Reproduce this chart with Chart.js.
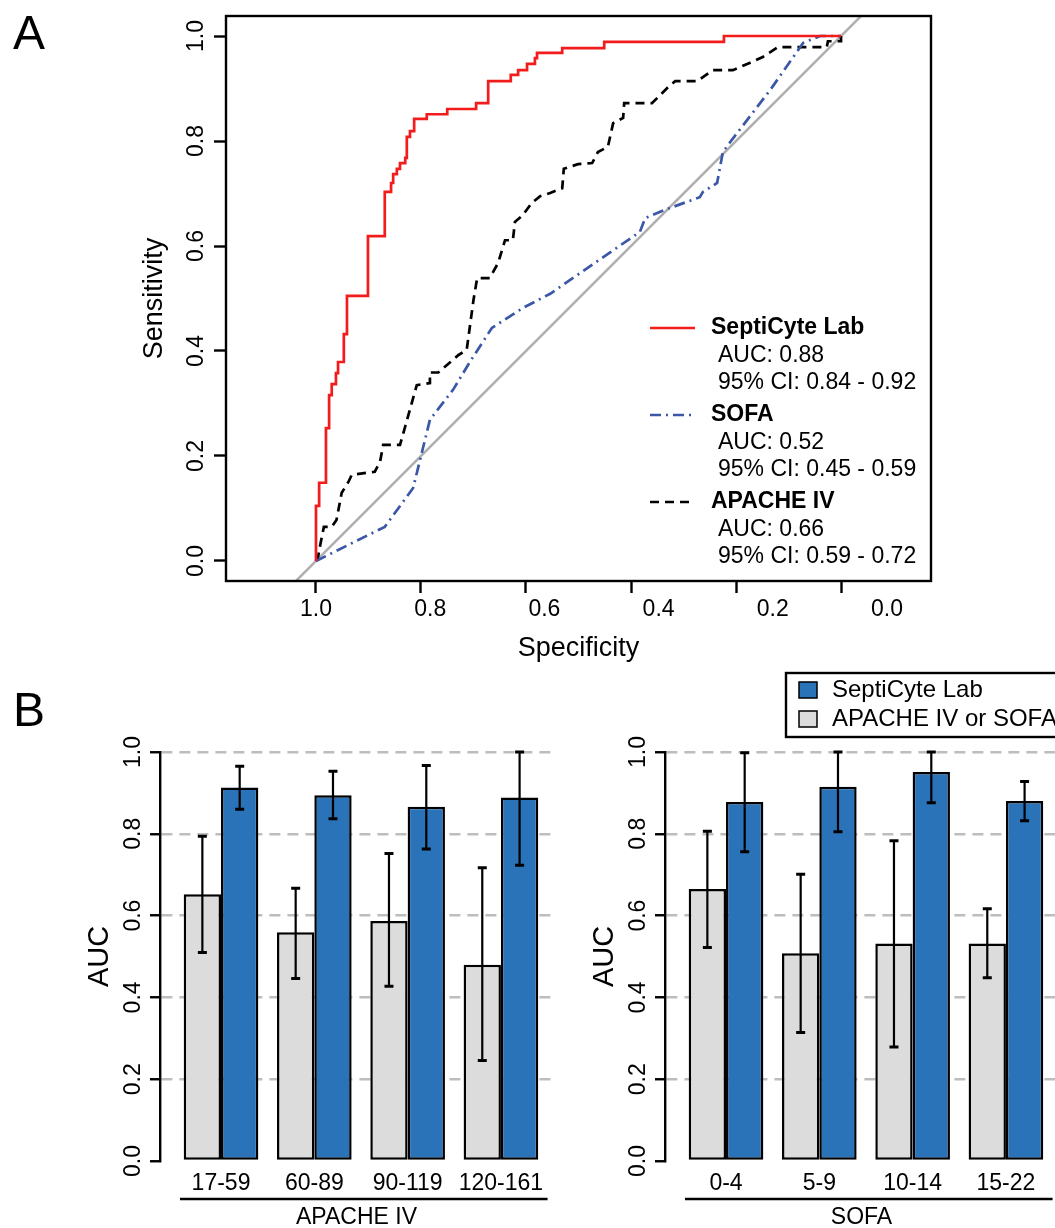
<!DOCTYPE html>
<html lang="en">
<head>
<meta charset="UTF-8">
<title>SeptiCyte Lab ROC and AUC by severity</title>
<script src="https://cdn.jsdelivr.net/npm/chart.js@4"></script>
<style>
  html, body { margin: 0; padding: 0; background: #fff; overflow: hidden; }
  body { width: 1055px; height: 1228px; position: relative; font-family: "Liberation Sans", Arial, sans-serif; }
  canvas { position: absolute; }
  #rocChart { left: 0; top: 0; }
  #apacheChart { left: 0; top: 660px; }
  #sofaChart { left: 505px; top: 660px; }
  .panel { position: absolute; font-size: 48px; line-height: 1; z-index: 5; }
</style>
</head>
<body>
<div class="panel" style="left:13px; top:9px;">A</div>
<div class="panel" style="left:13px; top:686px;">B</div>
<canvas id="rocChart" width="1055" height="670"></canvas>
<canvas id="apacheChart" width="560" height="568"></canvas>
<canvas id="sofaChart" width="560" height="568"></canvas>

<script>
const FONT = '"Liberation Sans", Arial, Helvetica, sans-serif';

// ---- panel A: ROC curves (specificity, sensitivity) ----
const rocTicks = [0, 0.2, 0.4, 0.6, 0.8, 1.0];

// SeptiCyte Lab, drawn as steps: up at the previous specificity, then across
const septiSpec = [1.000, 0.994, 0.981, 0.975, 0.970, 0.962, 0.958, 0.947, 0.941, 0.901, 0.869, 0.857,
                   0.853, 0.846, 0.840, 0.830, 0.827, 0.821, 0.813, 0.789, 0.750, 0.695, 0.672, 0.629,
                   0.615, 0.598, 0.583, 0.579, 0.531, 0.451, 0.223, 0.000];
const septiSens = [0.000, 0.105, 0.149, 0.253, 0.316, 0.337, 0.358, 0.379, 0.432, 0.505, 0.619, 0.703,
                   0.720, 0.737, 0.747, 0.758, 0.768, 0.808, 0.819, 0.842, 0.851, 0.861, 0.872, 0.914,
                   0.926, 0.935, 0.947, 0.958, 0.968, 0.977, 0.989, 1.000];

const sofaSpec = [1.000, 0.869, 0.815, 0.798, 0.783, 0.739, 0.707, 0.665, 0.606, 0.554, 0.383, 0.373,
                  0.335, 0.269, 0.263, 0.236, 0.225, 0.211, 0.135, 0.072, 0.040, 0.000];
const sofaSens = [0.000, 0.065, 0.139, 0.208, 0.269, 0.326, 0.379, 0.444, 0.482, 0.509, 0.627, 0.653,
                  0.669, 0.693, 0.703, 0.720, 0.779, 0.798, 0.897, 0.987, 1.000, 1.000];

const apacheSpec = [1.000, 0.996, 0.992, 0.985, 0.970, 0.961, 0.951, 0.938, 0.932, 0.888, 0.878, 0.872,
                    0.840, 0.808, 0.783, 0.783, 0.767, 0.729, 0.713, 0.700, 0.693, 0.669, 0.653, 0.640,
                    0.625, 0.621, 0.606, 0.589, 0.573, 0.554, 0.531, 0.528, 0.501, 0.474, 0.463, 0.444,
                    0.434, 0.415, 0.413, 0.360, 0.331, 0.316, 0.274, 0.244, 0.206, 0.173, 0.149, 0.120,
                    0.027, 0.025, 0.000, 0.000];
const apacheSens = [0.000, 0.008, 0.030, 0.065, 0.065, 0.078, 0.130, 0.151, 0.164, 0.170, 0.189, 0.221,
                    0.221, 0.335, 0.339, 0.359, 0.359, 0.392, 0.402, 0.497, 0.539, 0.539, 0.568, 0.611,
                    0.611, 0.646, 0.659, 0.682, 0.695, 0.701, 0.710, 0.747, 0.756, 0.758, 0.779, 0.789,
                    0.834, 0.844, 0.872, 0.872, 0.901, 0.914, 0.914, 0.935, 0.935, 0.949, 0.960, 0.979,
                    0.979, 0.990, 0.990, 1.000];

// chance line, corner to corner of the plot region
const diagSpec = [1.0381, -0.0381];
const diagSens = [-0.0381, 1.0381];

const rocNames = ['SeptiCyte Lab', 'SOFA', 'APACHE IV'];
const rocAuc = ['0.88', '0.52', '0.66'];
const rocCi = ['0.84 - 0.92', '0.45 - 0.59', '0.59 - 0.72'];

// ---- panel B: AUC by severity group ----
const barSeries = ['SeptiCyte Lab', 'APACHE IV or SOFA'];
const aucTicks = [0, 0.2, 0.4, 0.6, 0.8, 1.0];

const apacheGroups = ['17-59', '60-89', '90-119', '120-161'];
const apacheScoreAuc = [0.652, 0.559, 0.587, 0.480];
const apacheScoreLo = [0.510, 0.446, 0.427, 0.246];
const apacheScoreHi = [0.794, 0.667, 0.752, 0.717];
const apacheSeptiAuc = [0.913, 0.894, 0.866, 0.889];
const apacheSeptiLo = [0.860, 0.837, 0.763, 0.723];
const apacheSeptiHi = [0.965, 0.953, 0.967, 1.000];

const sofaGroups = ['0-4', '5-9', '10-14', '15-22'];
const sofaScoreAuc = [0.665, 0.508, 0.532, 0.532];
const sofaScoreLo = [0.522, 0.314, 0.279, 0.448];
const sofaScoreHi = [0.806, 0.701, 0.783, 0.617];
const sofaSeptiAuc = [0.878, 0.915, 0.951, 0.880];
const sofaSeptiLo = [0.756, 0.805, 0.876, 0.832];
const sofaSeptiHi = [0.998, 1.000, 1.000, 0.928];

Chart.defaults.font.family = FONT;
Chart.defaults.color = '#000';

function toPoints(xs, ys) {
    return xs.map((x, i) => ({x: x, y: ys[i]}));
}
function fixedTicks(values) {
    return scale => { scale.ticks = values.map(v => ({value: v})); };
}

// box round the ROC plot + the three-line legend entries
const rocFramePlugin = {
    id: 'rocFrame',
    afterDraw(chart) {
        const {ctx, chartArea} = chart;
        ctx.save();
        ctx.strokeStyle = '#000';
        ctx.lineWidth = 2.4;
        ctx.strokeRect(chartArea.left, chartArea.top, chartArea.right - chartArea.left, chartArea.bottom - chartArea.top);

        const x0 = chartArea.left + 424;
        const y0 = chartArea.top + 312;
        for (let i = 0; i < 3; i++) {
            const ds = chart.data.datasets[i];
            const y = y0 + i * 87;
            ctx.strokeStyle = ds.borderColor;
            ctx.lineWidth = ds.borderWidth;
            ctx.setLineDash(ds.borderDash || []);
            ctx.beginPath();
            ctx.moveTo(x0, y);
            ctx.lineTo(x0 + 45, y);
            ctx.stroke();
            ctx.setLineDash([]);
            ctx.fillStyle = '#000';
            ctx.textAlign = 'left';
            ctx.textBaseline = 'middle';
            ctx.font = 'bold 23px ' + FONT;
            ctx.fillText(rocNames[i], x0 + 61, y);
            ctx.font = '23px ' + FONT;
            ctx.fillText('AUC: ' + rocAuc[i], x0 + 68, y + 28);
            ctx.fillText('95% CI: ' + rocCi[i], x0 + 68, y + 55);
        }
        ctx.restore();
    }
};

new Chart(document.getElementById('rocChart'), {
    type: 'scatter',
    data: {
        datasets: [
            {label: rocNames[0], data: toPoints(septiSpec, septiSens), showLine: true, stepped: 'after',
             borderColor: '#f21c1c', borderWidth: 2.7, pointRadius: 0, fill: false},
            {label: rocNames[1], data: toPoints(sofaSpec, sofaSens), showLine: true,
             borderColor: '#3a57a8', borderWidth: 2.7, borderDash: [11, 5, 2, 5], pointRadius: 0, fill: false},
            {label: rocNames[2], data: toPoints(apacheSpec, apacheSens), showLine: true,
             borderColor: '#000', borderWidth: 2.7, borderDash: [9, 6], pointRadius: 0, fill: false},
            {label: 'chance', data: toPoints(diagSpec, diagSens), showLine: true,
             borderColor: '#b0b0b0', borderWidth: 2.5, pointRadius: 0, fill: false}
        ]
    },
    options: {
        responsive: false,
        animation: false,
        events: [],
        layout: {padding: {left: 0, top: 16, right: 124, bottom: 0}},
        plugins: {legend: {display: false}, tooltip: {enabled: false}},
        scales: {
            x: {
                type: 'linear', reverse: true, min: -0.1714, max: 1.1714, weight: 0,
                afterBuildTicks: fixedTicks(rocTicks),
                afterFit: s => { s.height = 12; },
                ticks: {display: false},
                grid: {drawOnChartArea: false, tickLength: 12, tickColor: '#000', tickWidth: 2.4},
                border: {display: false}
            },
            // tick labels sit on a slightly wider spacing than the tick marks in the original
            xl: {
                type: 'linear', position: 'bottom', reverse: true, min: -0.0771, max: 1.1576, weight: 1,
                afterBuildTicks: fixedTicks(rocTicks),
                afterFit: s => { s.height = 77; },
                ticks: {font: {size: 23}, padding: -5, maxRotation: 0, autoSkip: false, callback: v => v.toFixed(1)},
                grid: {display: false},
                border: {display: false},
                title: {display: true, text: 'Specificity', font: {size: 27}, padding: {top: 0, bottom: 5}}
            },
            y: {
                type: 'linear', min: -0.0381, max: 1.0381,
                afterBuildTicks: fixedTicks(rocTicks),
                afterFit: s => { s.width = 226; },
                ticks: {font: {size: 23}, minRotation: 90, maxRotation: 90, crossAlign: 'center', padding: 1,
                        callback: v => v.toFixed(1)},
                grid: {drawOnChartArea: false, tickLength: 12, tickColor: '#000', tickWidth: 2.4},
                border: {display: false},
                title: {display: true, text: 'Sensitivity', font: {size: 27}, padding: {top: 138, bottom: 0}}
            }
        }
    },
    plugins: [rocFramePlugin]
});

// confidence intervals on top of the bars
const errorBarPlugin = {
    id: 'errorBars',
    afterDatasetsDraw(chart) {
        const ctx = chart.ctx;
        const yScale = chart.scales.y;
        ctx.save();
        ctx.strokeStyle = '#000';
        chart.data.datasets.forEach((ds, di) => {
            chart.getDatasetMeta(di).data.forEach((bar, j) => {
                const yLo = yScale.getPixelForValue(ds.lo[j]);
                const yHi = yScale.getPixelForValue(ds.hi[j]);
                ctx.lineWidth = 2.2;
                ctx.beginPath();
                ctx.moveTo(bar.x, yLo);
                ctx.lineTo(bar.x, yHi);
                ctx.stroke();
                ctx.lineWidth = 3;
                ctx.beginPath();
                ctx.moveTo(bar.x - 4.5, yLo); ctx.lineTo(bar.x + 4.5, yLo);
                ctx.moveTo(bar.x - 4.5, yHi); ctx.lineTo(bar.x + 4.5, yHi);
                ctx.stroke();
            });
        });
        ctx.restore();
    }
};

// line under the group labels
const groupLinePlugin = {
    id: 'groupLine',
    afterDraw(chart) {
        const ctx = chart.ctx;
        const xs = chart.scales.x;
        const y = chart.chartArea.bottom + 38;
        ctx.save();
        ctx.strokeStyle = '#000';
        ctx.lineWidth = 2.4;
        ctx.beginPath();
        ctx.moveTo(xs.getPixelForValue(0.56), y);
        ctx.lineTo(xs.getPixelForValue(4.5), y);
        ctx.stroke();
        ctx.restore();
    }
};

// boxed legend (right panel only), running off the right edge like the original crop
const barLegendPlugin = {
    id: 'barLegend',
    afterDraw(chart) {
        const ctx = chart.ctx;
        const area = chart.chartArea;
        const left = area.left + 121;
        const top = area.top - 79;
        ctx.save();
        ctx.fillStyle = '#fff';
        ctx.fillRect(left, top, 500, 64);
        ctx.strokeStyle = '#000';
        ctx.lineWidth = 2.4;
        ctx.strokeRect(left, top, 500, 64);
        [1, 0].forEach((di, k) => {
            const ds = chart.data.datasets[di];
            const yc = top + 17 + k * 29;
            ctx.fillStyle = ds.backgroundColor;
            ctx.fillRect(left + 13, yc - 8, 18, 16);
            ctx.lineWidth = 1.5;
            ctx.strokeRect(left + 13, yc - 8, 18, 16);
            ctx.fillStyle = '#000';
            ctx.font = '24px ' + FONT;
            ctx.textAlign = 'left';
            ctx.textBaseline = 'middle';
            ctx.fillText(ds.label, left + 46, yc);
        });
        ctx.restore();
    }
};

function makeBarChart(id, groups, scoreAuc, scoreLo, scoreHi, septiAuc, septiLo, septiHi, groupTitle, extra) {
    return new Chart(document.getElementById(id), {
        type: 'bar',
        data: {
            datasets: [
                {label: barSeries[1], data: toPoints(groups.map((g, i) => i + 1), scoreAuc),
                 lo: scoreLo, hi: scoreHi,
                 backgroundColor: '#dcdcdc', borderColor: '#000', borderWidth: 2.5, borderSkipped: false,
                 categoryPercentage: 0.8, barPercentage: 1.0},
                {label: barSeries[0], data: toPoints(groups.map((g, i) => i + 1), septiAuc),
                 lo: septiLo, hi: septiHi,
                 backgroundColor: '#2a73b8', borderColor: '#000', borderWidth: 2.5, borderSkipped: false,
                 categoryPercentage: 0.8, barPercentage: 1.0}
            ]
        },
        options: {
            responsive: false,
            animation: false,
            events: [],
            layout: {padding: {left: 0, top: 92, right: 7, bottom: 0}},
            plugins: {legend: {display: false}, tooltip: {enabled: false}},
            scales: {
                x: {
                    type: 'linear', min: 0.346, max: 4.558, offset: false,
                    afterBuildTicks: fixedTicks(groups.map((g, i) => i + 1)),
                    afterFit: s => { s.height = 67; },
                    ticks: {font: {size: 23}, padding: 9, maxRotation: 0, autoSkip: false,
                            callback: v => groups[v - 1]},
                    grid: {display: false, drawTicks: false},
                    border: {display: false},
                    title: {display: true, text: groupTitle, font: {size: 23, lineHeight: 1}, padding: {top: 0, bottom: -1}}
                },
                y: {
                    type: 'linear', min: 0, max: 1,
                    afterBuildTicks: fixedTicks(aucTicks),
                    afterFit: s => { s.width = 160; },
                    ticks: {font: {size: 23}, minRotation: 90, maxRotation: 90, crossAlign: 'center', padding: 0,
                            callback: v => v.toFixed(1)},
                    grid: {
                        color: c => (c.tick && c.tick.value === 0) ? 'rgba(0,0,0,0)' : '#bdbdbd',
                        lineWidth: 2.5, tickColor: '#000', tickWidth: 2.4, tickLength: 10, tickBorderDash: []
                    },
                    border: {display: true, color: '#000', width: 2.4, dash: [11, 7]},
                    title: {display: true, text: 'AUC', font: {size: 29}, padding: {top: 83, bottom: 0}}
                }
            }
        },
        plugins: [errorBarPlugin, groupLinePlugin].concat(extra || [])
    });
}

makeBarChart('apacheChart', apacheGroups, apacheScoreAuc, apacheScoreLo, apacheScoreHi,
             apacheSeptiAuc, apacheSeptiLo, apacheSeptiHi, 'APACHE IV');
makeBarChart('sofaChart', sofaGroups, sofaScoreAuc, sofaScoreLo, sofaScoreHi,
             sofaSeptiAuc, sofaSeptiLo, sofaSeptiHi, 'SOFA', [barLegendPlugin]);
</script>
</body>
</html>
